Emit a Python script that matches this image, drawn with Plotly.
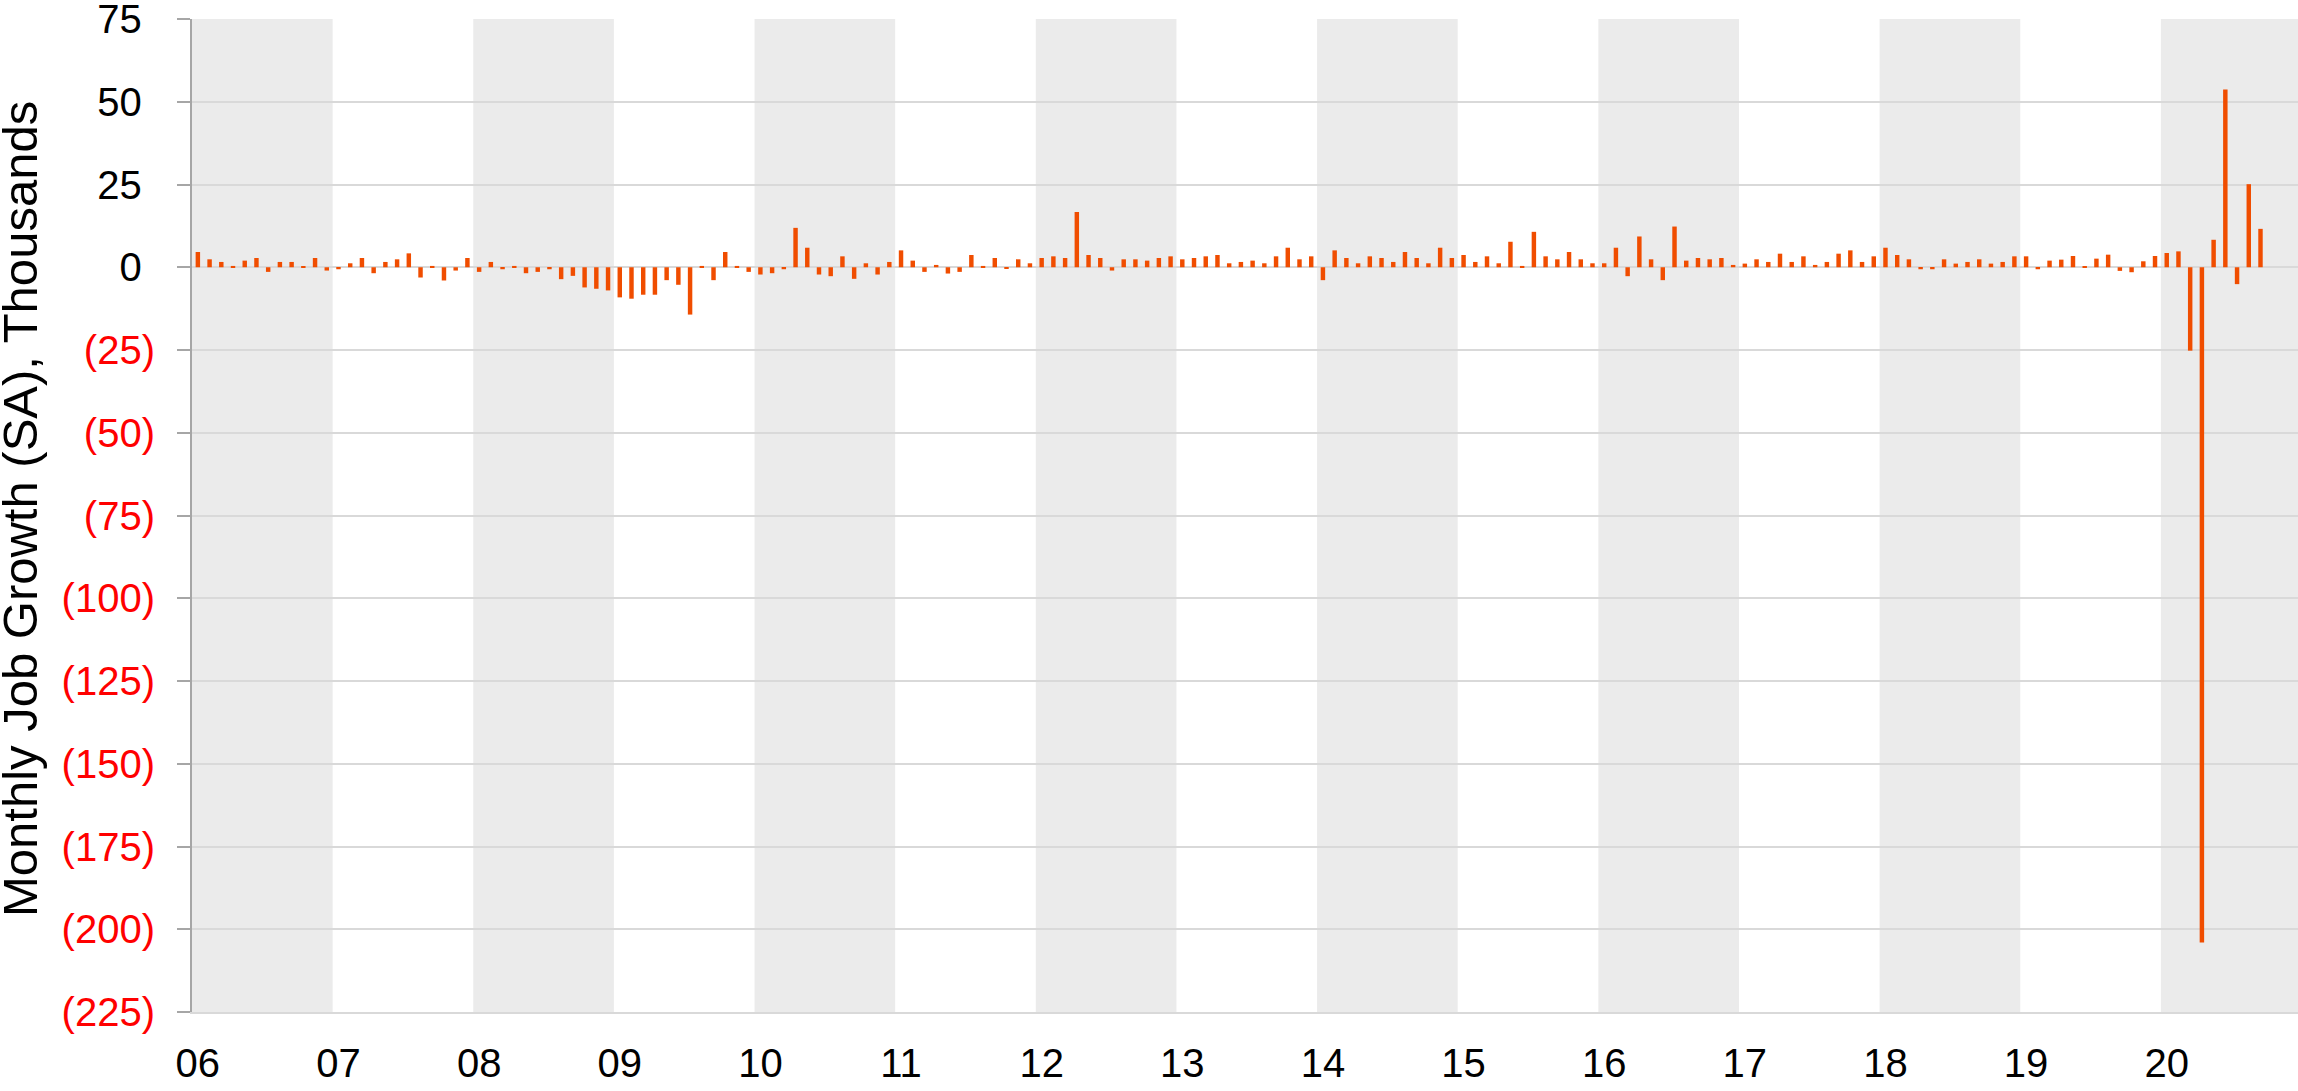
import plotly.graph_objects as go

# monthly job growth (SA), thousands, Jan 2006 - Sep 2020
growth_2006 = [4.6, 2.4, 1.6, 0.4, 2.0, 2.8, -1.4, 1.6, 1.6, 0.1, 2.8, -1.0]
growth_2007 = [-0.6, 1.2, 2.8, -1.8, 1.6, 2.4, 4.2, -3.1, 0.4, -4.0, -1.0, 2.8]
growth_2008 = [-1.4, 1.6, -0.6, 0.4, -1.8, -1.4, -0.6, -3.6, -2.6, -6.1, -6.5, -7.0]
growth_2009 = [-9.1, -9.5, -8.3, -8.3, -3.9, -5.3, -14.3, 0.4, -3.9, 4.6, 0.4, -1.4]
growth_2010 = [-2.2, -1.8, -0.6, 11.9, 5.9, -2.2, -2.7, 3.3, -3.5, 1.2, -2.2, 1.6]
growth_2011 = [5.1, 2.0, -1.4, 0.7, -1.9, -1.4, 3.7, 0.4, 2.8, -0.5, 2.4, 1.2]
growth_2012 = [2.8, 3.3, 2.8, 16.7, 3.7, 2.8, -1.0, 2.4, 2.4, 2.0, 2.8, 3.3]
growth_2013 = [2.4, 2.8, 3.3, 3.7, 1.2, 1.6, 2.0, 1.2, 3.3, 5.9, 2.4, 3.3]
growth_2014 = [-3.9, 5.1, 2.8, 1.2, 3.3, 2.8, 1.6, 4.6, 2.8, 1.2, 5.9, 2.8]
growth_2015 = [3.7, 1.6, 3.3, 1.2, 7.7, 0.4, 10.7, 3.3, 2.4, 4.6, 2.4, 1.2]
growth_2016 = [1.2, 5.9, -2.7, 9.3, 2.4, -3.9, 12.3, 2.0, 2.8, 2.4, 2.8, 0.7]
growth_2017 = [1.1, 2.4, 1.6, 4.1, 1.6, 3.3, 0.7, 1.6, 4.1, 5.1, 1.6, 3.3]
growth_2018 = [5.9, 3.7, 2.4, -0.6, -0.6, 2.4, 1.1, 1.6, 2.4, 1.1, 1.6, 3.3]
growth_2019 = [3.3, -0.6, 2.0, 2.3, 3.4, 0.1, 2.6, 3.8, -1.1, -1.5, 1.8, 3.4]
growth_2020 = [4.3, 4.8, -25.2, -204.0, 8.3, 53.7, -5.1, 25.1, 11.6]

years = list(range(2006, 2021))
year_labels = ["06", "07", "08", "09", "10", "11", "12", "13", "14", "15", "16", "17", "18", "19", "20"]
y_ticks = list(range(-225, 76, 25))

values = (growth_2006 + growth_2007 + growth_2008 + growth_2009 + growth_2010
          + growth_2011 + growth_2012 + growth_2013 + growth_2014 + growth_2015
          + growth_2016 + growth_2017 + growth_2018 + growth_2019 + growth_2020)
months = list(range(len(values)))

FONT = "Liberation Sans, Arial, sans-serif"

def tick_text(v):
    if v < 0:
        return '<span style="color:#FF0000">(%d)</span>' % -v
    # keep positives aligned with the ")" of negatives
    return '%d<span style="color:rgba(0,0,0,0)">)</span>' % v

fig = go.Figure()
fig.add_trace(go.Bar(
    x=months, y=values, width=0.38,
    marker=dict(color="#F04D00", line=dict(width=0)),
))

# grey bands on every other year
shapes = []
for k, yr in enumerate(years):
    if k % 2 == 0:
        shapes.append(dict(
            type="rect", xref="x", yref="paper",
            x0=k * 12 - 0.5, x1=k * 12 + 11.5, y0=0, y1=1,
            fillcolor="#EBEBEB", line=dict(width=0), layer="below",
        ))

fig.update_layout(
    width=2298, height=1091,
    margin=dict(l=192, r=0, t=19, b=79, autoexpand=False),
    plot_bgcolor="white", paper_bgcolor="white",
    showlegend=False,
    shapes=shapes,
    font=dict(family=FONT, size=40, color="black"),
    annotations=[dict(
        text="Monthly Job Growth (SA), Thousands",
        xref="paper", yref="paper", x=(20 - 192) / 2106, y=(1012 - 509) / 993,
        xanchor="center", yanchor="middle", textangle=-90,
        showarrow=False, font=dict(family=FONT, size=49, color="black"),
    )],
)

fig.update_xaxes(
    range=[-0.5, 179.2],
    tickmode="array",
    tickvals=[k * 12 for k in range(len(years))],
    ticktext=year_labels,
    ticks="", showgrid=False, zeroline=False,
    showline=True, linecolor="#D9D9D9", linewidth=2,
    ticklabelstandoff=15, ticklabeloverflow="allow", automargin=False,
    tickfont=dict(family=FONT, size=40, color="black"),
)
fig.update_yaxes(
    range=[-225, 75],
    tickmode="array",
    tickvals=y_ticks,
    ticktext=[tick_text(v) for v in y_ticks],
    showgrid=True, gridcolor="#D9D9D9", gridwidth=2,
    zeroline=False,
    showline=True, linecolor="#A6A6A6", linewidth=2,
    ticks="outside", ticklen=13, tickcolor="#A6A6A6", tickwidth=2,
    ticklabelstandoff=14, ticklabeloverflow="allow", automargin=False,
    tickfont=dict(family=FONT, size=40, color="black"),
)

# drop the default 8px body margin so the figure fills the window
fig.write_html("out.html", config={"displayModeBar": False},
               post_script="document.body.style.margin = '0';")
